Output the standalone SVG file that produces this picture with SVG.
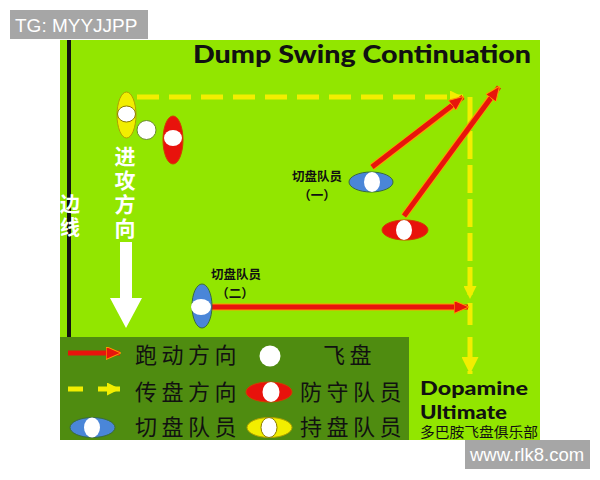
<svg xmlns="http://www.w3.org/2000/svg" width="600" height="480" viewBox="0 0 600 480">
<defs>
<style>
.field{fill:#92e600}
.legendbg{fill:#4f8c10}
.run{stroke:#e8140c;stroke-width:5;fill:none}
.halo{stroke:#ff9a00;stroke-width:7;fill:none}
.pass{stroke:#f2ee00;stroke-width:5;fill:none}
.disc{fill:#ffffff}
.red{fill:#e8120c;stroke:#d04000;stroke-width:1}
.blue{fill:#4a86d8;stroke:#3a6a40;stroke-width:1}
.yellow{fill:#f2ee00;stroke:#b0a000;stroke-width:1}
.lbl{font-family:"Noto Sans CJK SC",sans-serif;font-weight:bold;font-size:12.5px;fill:#111}
.vert{font-family:"Noto Sans CJK SC",sans-serif;font-weight:bold;fill:#ffffff;writing-mode:vertical-rl}
.leg{font-family:"Noto Sans CJK SC",sans-serif;font-size:22px;fill:#111;letter-spacing:4.5px}
.rnd{font-family:Lato,"DejaVu Sans",sans-serif;font-weight:900;fill:#111}
.wm{font-family:"Liberation Sans",Arial,sans-serif;fill:#ffffff}
</style>
<marker id="redHead" viewBox="0 0 14 12" refX="13" refY="6" markerWidth="15" markerHeight="13" markerUnits="userSpaceOnUse" orient="auto">
<path d="M0,0 L14,6 L0,12 z" fill="#e8140c" stroke="#ff9a00" stroke-width="1"/>
</marker>
<marker id="yelHead" viewBox="0 0 12 12" refX="12" refY="6" markerWidth="13" markerHeight="13" markerUnits="userSpaceOnUse" orient="auto">
<path d="M0,0 L12,6 L0,12 z" fill="#f2ee00"/>
</marker>
<marker id="yelHeadBig" viewBox="0 0 14 14" refX="14" refY="7" markerWidth="17" markerHeight="17" markerUnits="userSpaceOnUse" orient="auto">
<path d="M0,0 L14,7 L0,14 z" fill="#f2ee00"/>
</marker>
</defs>

<rect width="600" height="480" fill="#ffffff"/>
<rect class="field" x="60" y="40" width="480" height="400"/>
<rect id="sideline" x="67" y="40" width="4" height="297" fill="#111"/>
<rect class="legendbg" x="60" y="337" width="349" height="103"/>

<text id="title" class="rnd" x="193" y="63" font-size="25" textLength="338" lengthAdjust="spacingAndGlyphs">Dump Swing Continuation</text>

<g id="sideline-label">
<text class="vert" x="70" y="194" font-size="20" letter-spacing="3">边线</text>
</g>

<g id="attack-direction">
<text class="vert" x="125" y="146" font-size="21" letter-spacing="2.7">进攻方向</text>
<path d="M120,242 H132 V298 H142 L126,328 L110,298 H120 Z" fill="#ffffff"/>
</g>

<g id="connectors">
<line class="pass" x1="137" y1="97" x2="463" y2="97" stroke-dasharray="22 10" marker-end="url(#yelHead)"/>
<line class="pass" x1="470" y1="97" x2="470" y2="299" stroke-dasharray="28 6" marker-end="url(#yelHead)"/>
<line class="pass" x1="470" y1="303" x2="470" y2="374" stroke-dasharray="22 12" marker-end="url(#yelHeadBig)"/>
<line class="halo" x1="372" y1="167" x2="452" y2="106"/>
<line class="run" x1="372" y1="167" x2="463" y2="97" marker-end="url(#redHead)"/>
<line class="halo" x1="404" y1="216" x2="492" y2="96"/>
<line class="run" x1="404" y1="216" x2="499" y2="87" marker-end="url(#redHead)"/>
<line class="halo" x1="210" y1="307" x2="456" y2="307"/>
<line class="run" x1="210" y1="307" x2="468" y2="307" marker-end="url(#redHead)"/>
</g>

<g id="holder">
<ellipse class="yellow" cx="126.5" cy="115" rx="9.5" ry="23"/>
<ellipse class="disc" cx="126.5" cy="114" rx="9" ry="8" stroke="#8a7a00" stroke-width="1"/>
</g>
<g id="frisbee">
<circle class="disc" cx="146.5" cy="130" r="9.5" stroke="#6a8a30" stroke-width="1"/>
</g>
<g id="defender-1">
<ellipse class="red" cx="173" cy="140" rx="10" ry="24"/>
<ellipse class="disc" cx="173" cy="138" rx="9" ry="8"/>
</g>
<g id="cutter-1">
<ellipse class="blue" cx="371" cy="182" rx="22" ry="10"/>
<ellipse class="disc" cx="372" cy="182" rx="8" ry="10"/>
<text class="lbl" x="317" y="181" text-anchor="middle">切盘队员</text>
<text class="lbl" x="317" y="200" text-anchor="middle">（一）</text>
</g>
<g id="defender-2">
<ellipse class="red" cx="405" cy="230" rx="23" ry="10"/>
<ellipse class="disc" cx="404" cy="230" rx="8" ry="10"/>
</g>
<g id="cutter-2">
<ellipse class="blue" cx="202" cy="306" rx="10" ry="22"/>
<ellipse class="disc" cx="201" cy="307" rx="10" ry="8"/>
<text class="lbl" x="236" y="279" text-anchor="middle">切盘队员</text>
<text class="lbl" x="235" y="298" text-anchor="middle">（二）</text>
</g>

<g id="legend">
<line class="run" x1="68" y1="353" x2="120" y2="353" marker-end="url(#redHead)"/>
<text class="leg" x="135" y="363">跑动方向</text>
<circle class="disc" cx="270" cy="356" r="10.5"/>
<text class="leg" x="323" y="363" letter-spacing="0">飞盘</text>
<line class="pass" x1="68" y1="389" x2="83" y2="389"/>
<line class="pass" x1="98" y1="389" x2="120" y2="389" marker-end="url(#yelHead)"/>
<text class="leg" x="135" y="400">传盘方向</text>
<ellipse class="red" cx="269" cy="392" rx="23" ry="10"/>
<ellipse class="disc" cx="271" cy="392" rx="8.5" ry="10"/>
<text class="leg" x="300" y="400">防守队员</text>
<ellipse class="blue" cx="92.5" cy="427.5" rx="22.5" ry="10"/>
<ellipse class="disc" cx="92" cy="427.5" rx="8" ry="10"/>
<text class="leg" x="135" y="435">切盘队员</text>
<ellipse class="yellow" cx="269.5" cy="427.5" rx="22.5" ry="10"/>
<ellipse class="disc" cx="269" cy="427.5" rx="8" ry="10" stroke="#8a7a00" stroke-width="1"/>
<text class="leg" x="300" y="435">持盘队员</text>
</g>

<g id="club">
<text class="rnd" x="420" y="395" font-size="19.5" textLength="108" lengthAdjust="spacingAndGlyphs">Dopamine</text>
<text class="rnd" x="420" y="419" font-size="19.5" textLength="87" lengthAdjust="spacingAndGlyphs">Ultimate</text>
<text x="420" y="437" font-family="Noto Sans CJK SC,sans-serif" font-size="13.5" fill="#111" textLength="118" lengthAdjust="spacingAndGlyphs">多巴胺飞盘俱乐部</text>
</g>

<g id="watermarks">
<rect x="10" y="10" width="138" height="29" fill="#a6a6a6"/>
<text class="wm" x="15" y="32" font-size="19">TG: MYYJJPP</text>
<rect x="465" y="440" width="125" height="29" fill="#a6a6a6"/>
<text class="wm" x="470" y="461" font-size="18.5">www.rlk8.com</text>
</g>
</svg>
